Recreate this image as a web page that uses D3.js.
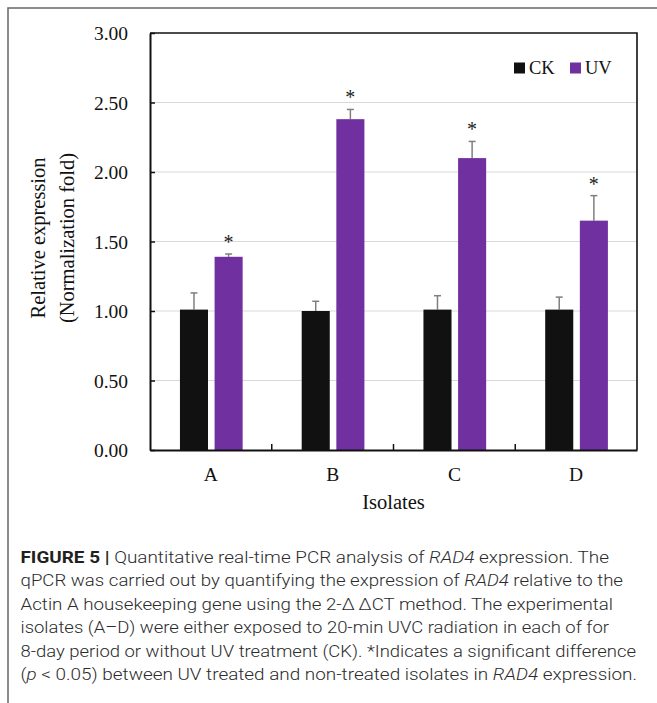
<!DOCTYPE html>
<html><head><meta charset="utf-8">
<script src="https://cdn.jsdelivr.net/npm/d3@7"></script>
<style>html,body{margin:0;padding:0;background:#fff;}svg{display:block;}</style>
</head><body>
<script>
const categories = ["A", "B", "C", "D"];
const seriesNames = ["CK", "UV"];
const ckValues = [1.01, 1.00, 1.01, 1.01];
const ckErrors = [0.12, 0.07, 0.10, 0.09];
const uvValues = [1.39, 2.38, 2.10, 1.65];
const uvErrors = [0.02, 0.07, 0.12, 0.18];
const uvSignificant = [true, true, true, true];
const yTicks = [0, 0.5, 1, 1.5, 2, 2.5, 3];
const yTitleLines = ["Relative expression", "(Normalization fold)"];
const xTitle = "Isolates";
const captionLines = [
  [["b","FIGURE 5 | "],["n","Quantitative real-time PCR analysis of "],["i","RAD4"],["n"," expression. The"]],
  [["n","qPCR was carried out by quantifying the expression of "],["i","RAD4"],["n"," relative to the"]],
  [["n","Actin A housekeeping gene using the 2-\u0394\u2009\u0394CT method. The experimental"]],
  [["n","isolates (A\u2013D) were either exposed to 20-min UVC radiation in each of for"]],
  [["n","8-day period or without UV treatment (CK). *Indicates a significant difference"]],
  [["n","("],["i","p"],["n"," < 0.05) between UV treated and non-treated isolates in "],["i","RAD4"],["n"," expression."]]
];
const captionRight = [609, 623, 613, 609, 636, 637];

const W = 657, H = 703;
const svg = d3.select("body").append("svg").attr("width", W).attr("height", H);
const serif = "'Liberation Serif','Times New Roman',serif";
const colors = {CK: "#111111", UV: "#7030a0"};

// frame
svg.append("path").attr("d", `M8,${H} L8,8 L${W},8`).attr("fill","none").attr("stroke","#666").attr("stroke-width",1.5);

const plot = {left: 150, right: 637, top: 33, bottom: 450};
const y = d3.scaleLinear().domain([0, 3]).range([plot.bottom, plot.top]);
const x = d3.scaleBand().domain(categories).range([plot.left, plot.right]).padding(0);
const xs = d3.scaleBand().domain(seriesNames)
  .range([x.bandwidth()*0.246, x.bandwidth()*0.761]).paddingInner(0.19).paddingOuter(0);

// gridlines
svg.append("g").selectAll("line").data(yTicks.filter(d => d > 0 && d < 3)).join("line")
  .attr("x1", plot.left).attr("x2", plot.right)
  .attr("y1", d => y(d)).attr("y2", d => y(d))
  .attr("stroke", "#d9d9d9").attr("stroke-width", 1.2);

// plot border (top & right)
svg.append("path").attr("d", `M${plot.left},${plot.top} L${plot.right},${plot.top} L${plot.right},${plot.bottom}`)
  .attr("fill","none").attr("stroke","#111").attr("stroke-width",1.6);

const rows = categories.map((c, i) => ({cat: c, i,
  bars: [{s:"CK", v: ckValues[i], e: ckErrors[i], sig:false},
         {s:"UV", v: uvValues[i], e: uvErrors[i], sig: uvSignificant[i]}]}));

const g = svg.append("g").selectAll("g").data(rows).join("g")
  .attr("transform", d => `translate(${x(d.cat)},0)`);

// error bars (behind bars)
g.selectAll(".err").data(d => d.bars).join("g").attr("class","err").each(function(b){
  const cx = xs(b.s) + xs.bandwidth()/2;
  const gg = d3.select(this);
  gg.append("line").attr("x1",cx).attr("x2",cx).attr("y1",y(b.v)).attr("y2",y(b.v+b.e))
    .attr("stroke","#7f7f7f").attr("stroke-width",1.5);
  gg.append("line").attr("x1",cx-3.5).attr("x2",cx+3.5).attr("y1",y(b.v+b.e)).attr("y2",y(b.v+b.e))
    .attr("stroke","#7f7f7f").attr("stroke-width",1.5);
});

g.selectAll("rect").data(d => d.bars).join("rect")
  .attr("x", b => xs(b.s)).attr("width", xs.bandwidth())
  .attr("y", b => y(b.v)).attr("height", b => y(0) - y(b.v))
  .attr("fill", b => colors[b.s]);

// significance stars
g.selectAll(".star").data(d => d.bars.filter(b => b.sig)).join("text").attr("class","star")
  .attr("x", b => xs(b.s) + xs.bandwidth()/2)
  .attr("y", b => y(b.v + b.e) - 15 + 10)
  .attr("text-anchor","middle").attr("font-family", serif).attr("font-size", 20).attr("fill","#222")
  .text("*");

// y axis
const yAxis = svg.append("g").attr("transform", `translate(${plot.left},0)`)
  .call(d3.axisLeft(y).tickValues(yTicks).tickFormat(d3.format(".2f")).tickSizeInner(-5).tickSizeOuter(0).tickPadding(22));
yAxis.select(".domain").attr("stroke","#111").attr("stroke-width",2);
yAxis.selectAll(".tick line").attr("stroke","#111").attr("stroke-width",1.5);
yAxis.selectAll(".tick text").attr("font-family", serif).attr("font-size", 19.5).attr("fill","#111").attr("dy","0.34em");

// x axis
const xAxis = svg.append("g").attr("transform", `translate(0,${plot.bottom})`)
  .call(d3.axisBottom(x).tickSize(0).tickPadding(17));
xAxis.select(".domain").attr("stroke","#111").attr("stroke-width",2);
xAxis.selectAll(".tick text").attr("font-family", serif).attr("font-size", 19.5).attr("fill","#111");
// category separator ticks
svg.append("g").selectAll("line").data(categories.slice(1)).join("line")
  .attr("x1", d => x(d)).attr("x2", d => x(d))
  .attr("y1", plot.bottom).attr("y2", plot.bottom - 6)
  .attr("stroke","#111").attr("stroke-width",1.5);

// axis titles
svg.append("text").attr("x", (plot.left+plot.right)/2).attr("y", 509)
  .attr("text-anchor","middle").attr("font-family", serif).attr("font-size", 20.5).attr("fill","#111").text(xTitle);
const yCenters = [45, 74];
yTitleLines.forEach((t, i) => {
  svg.append("text").attr("transform", `translate(${yCenters[i]},238) rotate(-90)`)
    .attr("text-anchor","middle").attr("font-family", serif).attr("font-size", 20.5).attr("fill","#111").text(t);
});

// legend
const leg = svg.append("g");
const legX = [514, 570];
seriesNames.forEach((s, i) => {
  leg.append("rect").attr("x", legX[i]).attr("y", 62.5).attr("width", 11).attr("height", 11).attr("fill", colors[s]);
  leg.append("text").attr("x", legX[i] + 15).attr("y", 74).attr("font-family", serif).attr("font-size", 18.5).attr("fill","#111").text(s);
});

// caption
const capFont = "Roboto,'Liberation Sans',Arial,sans-serif";
const baselines = [562.5, 586, 609.5, 633, 656.5, 680];
captionLines.forEach((parts, li) => {
  const t = svg.append("text").attr("x", 20.5).attr("y", baselines[li])
    .attr("font-family", capFont).attr("font-size", 16.5).attr("font-weight", 300).attr("fill","#2b2b2b")
    .attr("textLength", captionRight[li] - 20.5).attr("lengthAdjust","spacingAndGlyphs");
  parts.forEach(([k, s]) => {
    const ts = t.append("tspan").text(s);
    if (k === "b") ts.attr("font-weight","bold").attr("fill","#231f20");
    if (k === "i") ts.attr("font-style","italic");
  });
});
</script>
</body></html>
